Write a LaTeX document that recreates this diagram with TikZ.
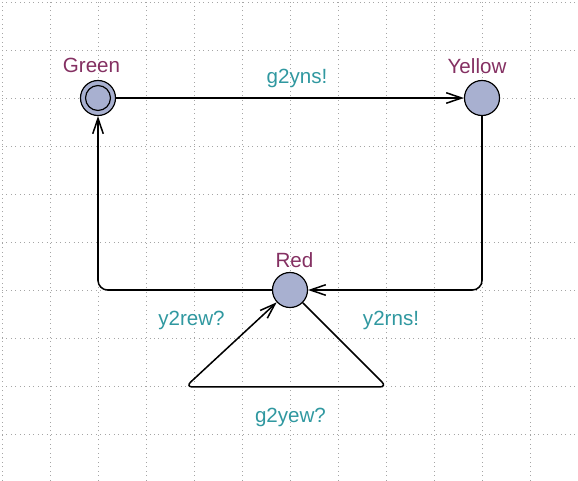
\documentclass[tikz,border=0pt]{standalone}
\usepackage{fontspec}
\setmainfont{Liberation Sans}
\usetikzlibrary{arrows.meta}
\definecolor{locfill}{RGB}{168,176,208}
\definecolor{namecol}{RGB}{132,48,98}
\definecolor{synccol}{RGB}{48,152,160}
\definecolor{dotcol}{RGB}{165,165,165}

\begin{document}
\begin{tikzpicture}[every node/.style={font=\fontsize{12.2}{14}\selectfont},
  location/.style={circle,draw,fill=locfill,line width=0.7pt,minimum size=7.3mm,inner sep=0pt},
  locname/.style={text=namecol,anchor=base},
  sync/.style={text=synccol,anchor=base},
  edge/.style={draw,line width=0.9pt,-{Straight Barb[length=3.2mm,width=2.2mm]}},
  gridline/.style={dotcol,line width=0.55pt,dash pattern=on 0.55pt off 2.1pt}]

    \useasboundingbox (-0.0417,-9.979) rectangle (12,0.0417);
    \draw[gridline] (0,-9.97) grid (12,0);

    \node[location] (green) at (2,-2) {};
    \draw[line width=0.7pt] (green) circle (0.26);
    \node[location] (yellow) at (10,-2) {};
    \node[location] (red) at (6,-6) {};
    \coordinate (loopR) at (8.02,-8.02);
    \coordinate (loopL) at (3.82,-8.02);

    \node[locname] (greenlbl) at (1.865,-1.47) {Green};
    \node[locname] (yellowlbl) at (9.896,-1.48) {Yellow};
    \node[locname] (redlbl) at (6.094,-5.54) {Red};

    \draw[edge] (green) -- (yellow);
    \draw[edge,rounded corners=2mm] (yellow) |- (red);
    \draw[edge,rounded corners=2mm] (red) -| (green);
    \draw[edge,rounded corners=1.5mm] (red) -- (loopR) -- (loopL) -- (red);

    \node[sync] (g2yns) at (6.146,-1.708) {g2yns!};
    \node[sync] (y2rns) at (8.104,-6.73) {y2rns!};
    \node[sync] (y2rew) at (3.948,-6.73) {y2rew?};
    \node[sync] (g2yew) at (6.01,-8.77) {g2yew?};
\end{tikzpicture}
\end{document}
